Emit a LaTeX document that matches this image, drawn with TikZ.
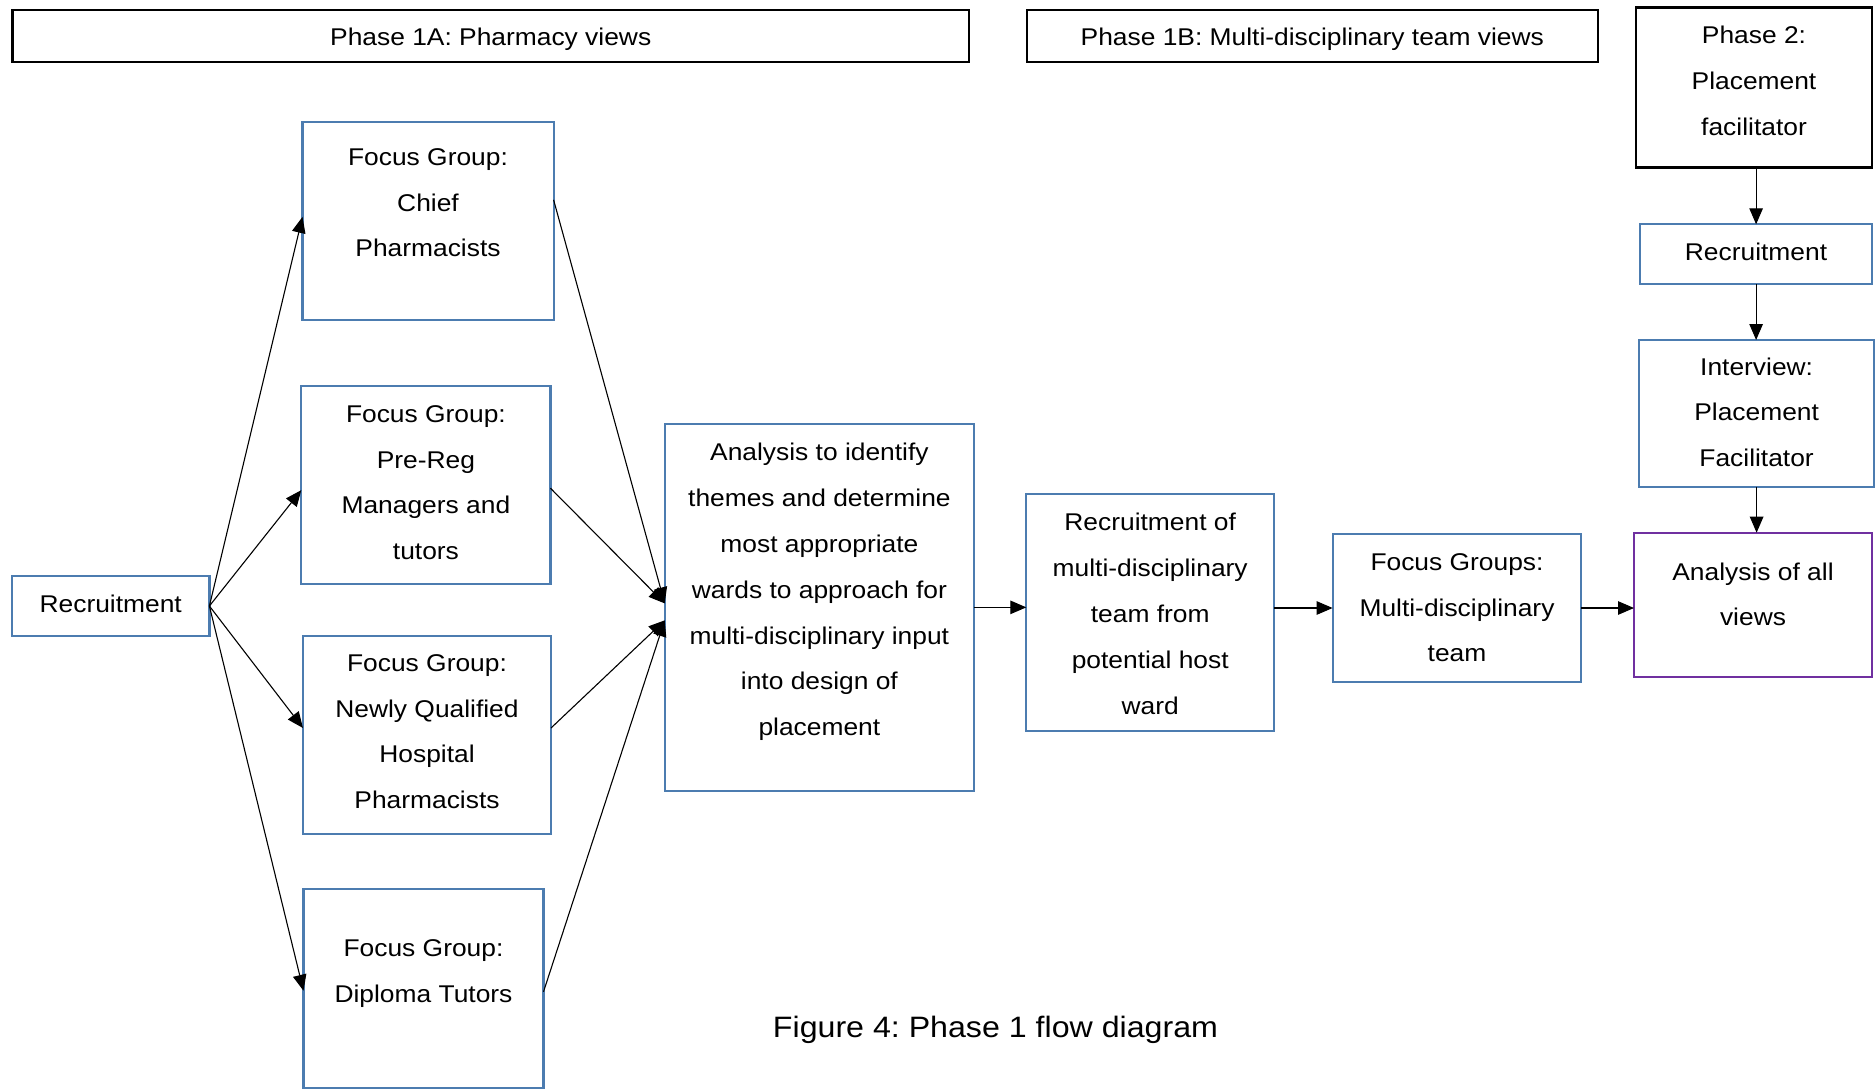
\documentclass[tikz,border=0pt]{standalone}
\usepackage{fontspec}
\setmainfont{Liberation Sans}[FakeStretch=1.09]
\usetikzlibrary{arrows.meta}
\definecolor{boxblue}{RGB}{76,124,176}
\definecolor{boxpurple}{RGB}{112,48,160}
\newcommand\boxfont{\fontsize{24.2}{45.8}\selectfont}
\newcommand\capfont{\fontsize{29.5}{36}\selectfont}
\frenchspacing
\tikzset{
  frame/.style={draw, inner sep=0pt, outer sep=0pt, anchor=north west},
  phasebox/.style={frame, draw=black, line width=2.6pt},
  bluebox/.style={frame, draw=boxblue, line width=2.2pt},
  purplebox/.style={frame, draw=boxpurple, line width=2.2pt},
  txt/.style={anchor=north, inner sep=0pt, align=center, font=\boxfont},
  line/.style={anchor=base, inner sep=0pt, font=\boxfont},
  arr/.style={draw=black, line width=1.1pt, -{Triangle[length=16pt,width=13.5pt]}},
}
\begin{document}
\begin{tikzpicture}[x=1pt, y=-1pt]
\useasboundingbox (0,0) rectangle (1876,1088);

% phase headers
\node[phasebox, minimum width=956.5pt, minimum height=52pt] (ph1a) at (12.5,10) {};
\node[line] (ph1aT) at (490.7,45.7) {Phase 1A: Pharmacy views};
\node[phasebox, minimum width=571pt, minimum height=52pt] (ph1b) at (1026.8,10) {};
\node[line] (ph1bT) at (1312.3,45.7) {Phase 1B: Multi-disciplinary team views};
\node[phasebox, minimum width=236.2pt, minimum height=160.4pt] (ph2) at (1635.8,7.3) {};
\node[txt] (ph2T) at (1754,25.7) {Phase 2:\\Placement\\facilitator};

% phase 1A
\node[bluebox, minimum width=197.4pt, minimum height=60pt] (rec1) at (12,576) {};
\node[line] (rec1T) at (110.7,612) {Recruitment};
\node[bluebox, minimum width=251.1pt, minimum height=198.3pt] (chief) at (302.5,121.7) {};
\node[txt] (chiefT) at (428,148.1) {Focus Group:\\Chief\\Pharmacists};
\node[bluebox, minimum width=249.1pt, minimum height=198.3pt] (prereg) at (301.3,386) {};
\node[txt] (preregT) at (425.9,405.1) {Focus Group:\\Pre-Reg\\Managers and\\tutors};
\node[bluebox, minimum width=248pt, minimum height=198.6pt] (nq) at (303,635.7) {};
\node[txt] (nqT) at (427,654.1) {Focus Group:\\Newly Qualified\\Hospital\\Pharmacists};
\node[bluebox, minimum width=240pt, minimum height=199.5pt] (dip) at (303.5,889) {};
\node[txt] (dipT) at (423.5,939.1) {Focus Group:\\Diploma Tutors};
\node[bluebox, minimum width=309.4pt, minimum height=366.7pt] (ana) at (664.7,424) {};
\node[txt] (anaT) at (819.4,443.1) {Analysis to identify\\themes and determine\\most appropriate\\wards to approach for\\multi-disciplinary input\\into design of\\placement};

% phase 1B
\node[bluebox, minimum width=247.8pt, minimum height=236.7pt] (rof) at (1026.3,494.3) {};
\node[txt] (rofT) at (1150.2,513.1) {Recruitment of\\multi-disciplinary\\team from\\potential host\\ward};
\node[bluebox, minimum width=248.7pt, minimum height=147.4pt] (fg) at (1332.6,534.3) {};
\node[txt] (fgT) at (1457,553.1) {Focus Groups:\\Multi-disciplinary\\team};

% phase 2
\node[bluebox, minimum width=231.8pt, minimum height=60pt] (r2) at (1640.2,224.3) {};
\node[line] (r2T) at (1756,260) {Recruitment};
\node[bluebox, minimum width=234.8pt, minimum height=146.7pt] (int) at (1639.2,340) {};
\node[txt] (intT) at (1756.6,357.4) {Interview:\\Placement\\Facilitator};
\node[purplebox, minimum width=238pt, minimum height=144.3pt] (all) at (1634,532.7) {};
\node[txt] (allT) at (1753,562.4) {Analysis of all\\views};

% caption
\node[anchor=base, inner sep=0pt, font=\capfont] (cap) at (995.5,1037.3) {Figure 4: Phase 1 flow diagram};

% recruitment fan-out
\draw[arr] (rec1.east) -- ([yshift=4pt]chief.west);
\draw[arr] (rec1.east) -- ([yshift=-5pt]prereg.west);
\draw[arr] (rec1.east) -- ([yshift=7pt]nq.west);
\draw[arr] (rec1.east) -- ([yshift=-2pt]dip.west);

% focus groups into analysis
\coordinate (anaA) at ([yshift=4pt]ana.west);
\coordinate (anaB) at ([yshift=-13pt]ana.west);
\draw[arr] ([yshift=21pt]chief.east) -- (anaA);
\draw[arr] ([yshift=-3pt]prereg.east) -- (anaA);
\draw[arr] ([yshift=7pt]nq.east) -- (anaB);
\draw[arr] ([yshift=-3pt]dip.east) -- (anaB);

% main flow
\draw[arr] (ana.east) -- (ana.east -| rof.west);
\draw[arr] (fg.west -| rof.east) -- (fg.west);
\draw[arr] (fg.east) -- (fg.east -| all.west);
\draw[arr] (r2.north |- ph2.south) -- (r2.north);
\draw[arr] (r2.south) -- (r2.south |- int.north);
\draw[arr] (int.south) -- (int.south |- all.north);
\end{tikzpicture}
\end{document}
